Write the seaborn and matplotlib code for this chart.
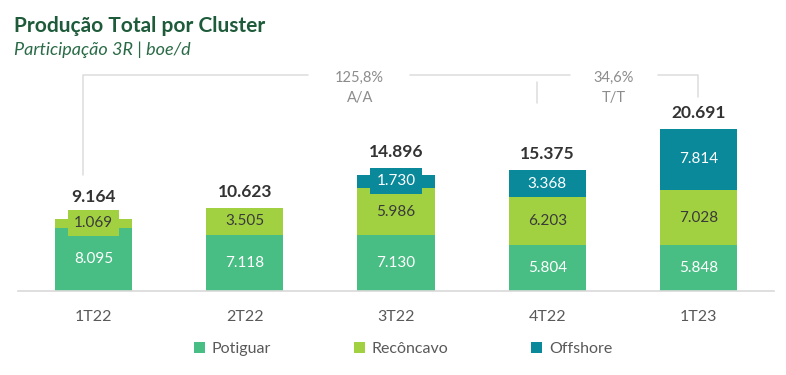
import matplotlib
matplotlib.use("Agg")
import matplotlib.pyplot as plt
import matplotlib.transforms as mtransforms
from matplotlib.patches import Patch
import seaborn as sns
import pandas as pd
import numpy as np

# ---- data ----
quarters = ["1T22", "2T22", "3T22", "4T22", "1T23"]
potiguar = [8095, 7118, 7130, 5804, 5848]
reconcavo = [1069, 3505, 5986, 6203, 7028]
offshore = [0, 0, 1730, 3368, 7814]
totals = [9164, 10623, 14896, 15375, 20691]
series_names = ["Potiguar", "Recôncavo", "Offshore"]
aa_label = ["125,8%", "A/A"]
tt_label = ["34,6%", "T/T"]

title = "Produção Total por Cluster"
subtitle = "Participação 3R | boe/d"

colors = {"Potiguar": "#49BE84", "Recôncavo": "#A1D141", "Offshore": "#0A899B"}
txt_colors = {"Potiguar": "white", "Recôncavo": "#3a3a3a", "Offshore": "white"}

def fmt(v):
    return f"{v:,}".replace(",", ".")

sns.set_theme(style="white")
plt.rcParams["font.family"] = ["Lato", "DejaVu Sans"]

fig = plt.figure(figsize=(7.86, 3.75), dpi=100)
W, H = 786, 375
ax_left, ax_right, ax_bottom, ax_top = 18, 774, 291, 40
ax = fig.add_axes([ax_left / W, 1 - ax_bottom / H, (ax_right - ax_left) / W, (ax_bottom - ax_top) / H])

df = pd.DataFrame({"q": quarters, "Potiguar": potiguar, "Recôncavo": reconcavo, "Offshore": offshore})
df["cum_p"] = df["Potiguar"]
df["cum_r"] = df["Potiguar"] + df["Recôncavo"]
df["cum_o"] = df["cum_r"] + df["Offshore"]

bw = 0.51
sns.barplot(data=df, x="q", y="cum_o", color=colors["Offshore"], saturation=1, width=bw, linewidth=0, ax=ax)
sns.barplot(data=df, x="q", y="cum_r", color=colors["Recôncavo"], saturation=1, width=bw, linewidth=0, ax=ax)
sns.barplot(data=df, x="q", y="cum_p", color=colors["Potiguar"], saturation=1, width=bw, linewidth=0, ax=ax)

ymax = 32000
ax.set_xlim(-0.5, 4.5)
ax.set_ylim(0, ymax)
px_per_unit = (ax_bottom - ax_top) / ymax

# segment labels
for i in range(len(quarters)):
    bottoms = [0, potiguar[i], potiguar[i] + reconcavo[i]]
    vals = [potiguar[i], reconcavo[i], offshore[i]]
    bumped = False
    for name, b, v in zip(series_names, bottoms, vals):
        if v <= 0:
            continue
        kw = {}
        if v * px_per_unit < 16:
            kw["bbox"] = dict(boxstyle="square,pad=0.4", fc=colors[name], ec="none")
            bumped = True
        ax.text(i, b + v / 2, fmt(v), ha="center", va="center", fontsize=11,
                color=txt_colors[name], **kw)
    off = 16 if bumped else 11.5
    ax.annotate(fmt(totals[i]), (i, totals[i]), xytext=(0, off), textcoords="offset points",
                ha="center", va="center", fontsize=12.5, fontweight="bold", color="#333333")

# axes styling
for s in ["top", "right", "left"]:
    ax.spines[s].set_visible(False)
ax.spines["bottom"].set_color("#d9d9d9")
ax.spines["bottom"].set_linewidth(1.2)
ax.set_yticks([])
ax.set_xlabel("")
ax.set_ylabel("")
ax.tick_params(axis="x", length=0, pad=14, labelsize=11.5, labelcolor="#595959")

# growth brackets (x in data, y in axes fraction)
trans = mtransforms.blended_transform_factory(ax.transData, ax.transAxes)
def yf(py):
    return (ax_bottom - py) / (ax_bottom - ax_top)
lc = "#dcdcdc"
lkw = dict(color=lc, lw=1.1, transform=trans, clip_on=False)
ax.plot([-0.07, -0.07, 1.42], [yf(175), yf(75), yf(75)], **lkw)
ax.plot([2.09, 3.15], [yf(75), yf(75)], **lkw)
ax.plot([3.73, 4.0, 4.0], [yf(75), yf(75), yf(97)], **lkw)
ax.plot([2.93, 2.93], [yf(82), yf(103)], **lkw)
for xc, lab in [(1.76, aa_label), (3.44, tt_label)]:
    ax.text(xc, yf(78), lab[0], transform=trans, ha="center", va="center", fontsize=10.5, color="#8c8c8c")
    ax.text(xc, yf(98), lab[1], transform=trans, ha="center", va="center", fontsize=10.5, color="#8c8c8c")

# titles
fig.text(14 / W, 1 - 32 / H, title, ha="left", va="baseline", fontsize=15, fontweight="bold", color="#1E5B3A")
fig.text(14 / W, 1 - 55 / H, subtitle, ha="left", va="baseline", fontsize=13, fontstyle="italic", color="#2A6B47")

# legend
handles = [Patch(facecolor=colors[n], edgecolor="none", label=n) for n in series_names]
fig.legend(handles=handles, loc="center", bbox_to_anchor=(403 / W, 1 - 349 / H), ncol=3, frameon=False,
           fontsize=11.5, labelcolor="#595959", handlelength=0.7, handleheight=0.7, handletextpad=0.4,
           columnspacing=5.2)

fig.savefig("out.png", dpi=100)
